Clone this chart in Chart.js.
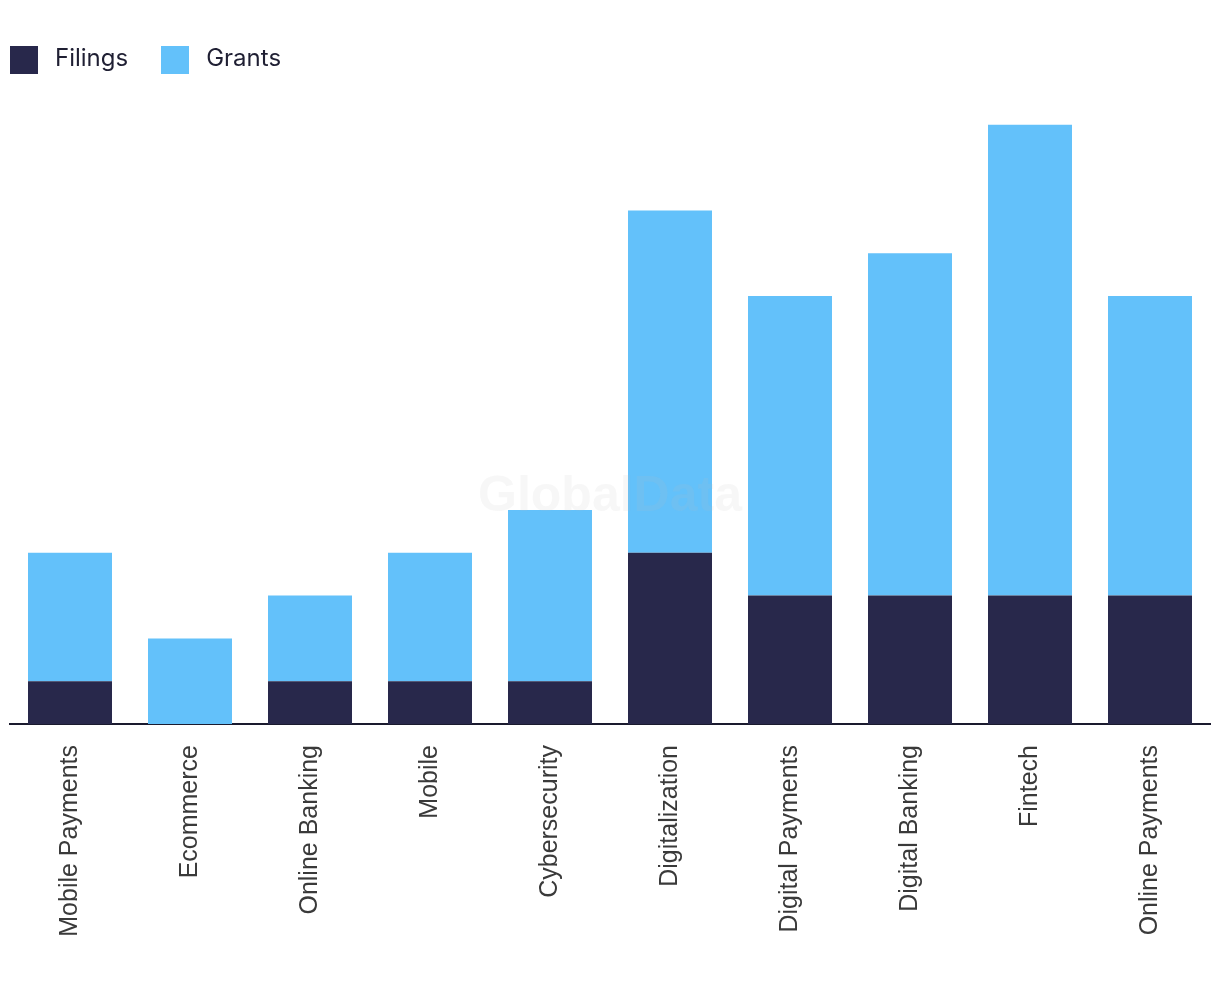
<!DOCTYPE html>
<html>
<head>
<meta charset="utf-8">
<script src="https://cdn.jsdelivr.net/npm/chart.js@4"></script>
<style>
    html, body { margin: 0; padding: 0; background: #ffffff; }
    #wrap { position: relative; width: 1220px; height: 988px; }
    #legend { position: absolute; left: 10px; top: 45px; display: flex; font-family: Inter, "Noto Sans", sans-serif; font-size: 24px; color: #1f1f33; }
    .item { display: flex; align-items: center; margin-right: 33px; }
    .swatch { width: 28px; height: 28px; margin-right: 17px; }
    .item span:last-child { position: relative; top: -2px; }
</style>
</head>
<body>
<div id="wrap">
    <canvas id="chart" width="1220" height="988"></canvas>
    <div id="legend"></div>
</div>
<script>
// Chart data
const categories = ['Mobile Payments', 'Ecommerce', 'Online Banking', 'Mobile', 'Cybersecurity',
    'Digitalization', 'Digital Payments', 'Digital Banking', 'Fintech', 'Online Payments'];
const filings = [1, 0, 1, 1, 1, 4, 3, 3, 3, 3];
const grants = [3, 2, 2, 3, 4, 8, 7, 8, 11, 7];

const seriesColors = ['#28284b', '#63c1fa'];

// Faint watermark in the middle of the plot
const watermark = {
    id: 'watermark',
    afterDatasetsDraw(chart) {
        const { ctx, chartArea } = chart;
        ctx.save();
        ctx.font = 'bold 50px "Liberation Sans", Arial, sans-serif';
        ctx.fillStyle = 'rgba(190, 190, 190, 0.12)';
        ctx.textAlign = 'center';
        ctx.textBaseline = 'alphabetic';
        ctx.fillText('GlobalData', (chartArea.left + chartArea.right) / 2, 511);
        ctx.restore();
    }
};

const chart = new Chart(document.getElementById('chart'), {
    type: 'bar',
    data: {
        labels: categories,
        datasets: [
            { label: 'Filings', data: filings, backgroundColor: seriesColors[0] },
            { label: 'Grants', data: grants, backgroundColor: seriesColors[1] }
        ]
    },
    options: {
        responsive: false,
        animation: false,
        layout: { padding: { left: 10, right: 10, top: 82, bottom: 0 } },
        datasets: { bar: { categoryPercentage: 1, barPercentage: 0.7 } },
        plugins: {
            legend: { display: false },
            tooltip: { enabled: false }
        },
        scales: {
            x: {
                stacked: true,
                grid: { display: false, drawTicks: false },
                border: { display: true, color: '#1a1a2e', width: 2 },
                ticks: {
                    minRotation: 90,
                    maxRotation: 90,
                    padding: 21,
                    color: '#3a3a3a',
                    font: { family: '"Liberation Sans", Arial, sans-serif', size: 25 }
                },
                afterFit(scale) { scale.height = 264; }
            },
            y: {
                stacked: true,
                display: false,
                min: 0,
                max: 15
            }
        }
    },
    plugins: [watermark]
});

// HTML legend built from the datasets
const legendEl = document.getElementById('legend');
chart.data.datasets.forEach(ds => {
    const item = document.createElement('div');
    item.className = 'item';
    const sw = document.createElement('span');
    sw.className = 'swatch';
    sw.style.background = ds.backgroundColor;
    const txt = document.createElement('span');
    txt.textContent = ds.label;
    item.appendChild(sw);
    item.appendChild(txt);
    legendEl.appendChild(item);
});
</script>
</body>
</html>
